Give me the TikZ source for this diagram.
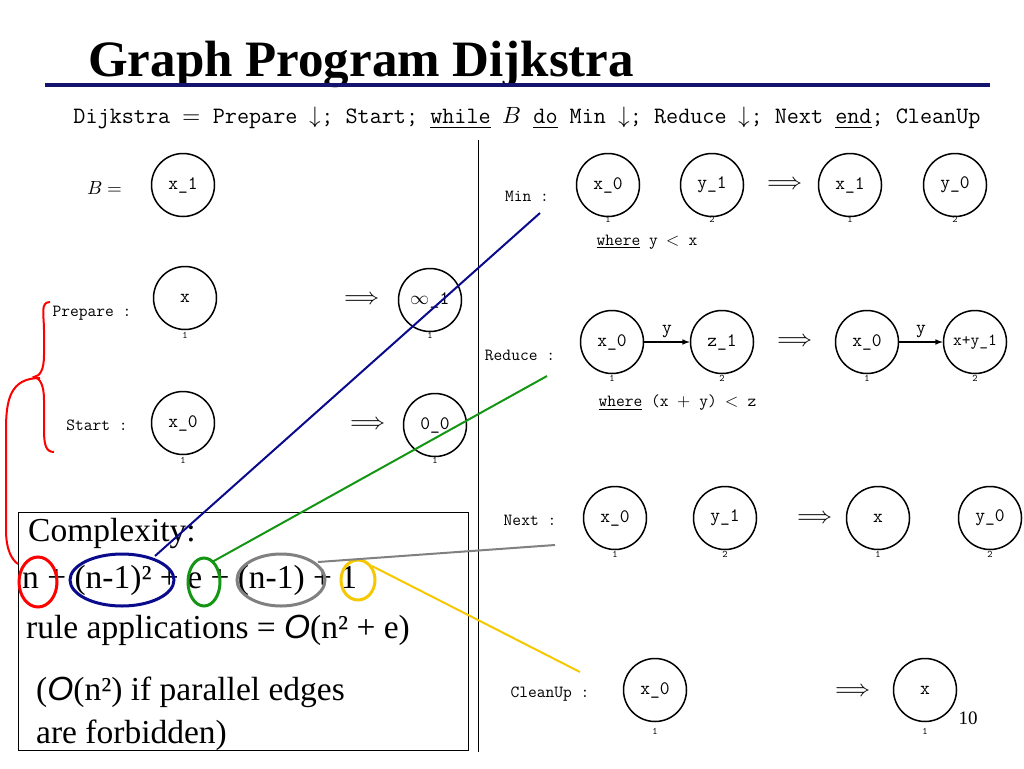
\documentclass[tikz,border=0pt]{standalone}
\usepackage{fontspec}
\setmainfont{Liberation Serif}
\newfontfamily\lsans{Liberation Sans}
\setmonofont{Latin Modern Mono}
\usepackage{unicode-math}
\setmathfont{Latin Modern Math}
\begin{document}
\begin{tikzpicture}[x=1pt,y=-1pt,
  gn/.style={circle,draw,line width=1.5pt,minimum size=63pt,inner sep=0pt,font=\ttfamily\fontsize{19}{21}\selectfont},
  sub/.style={font=\ttfamily\fontsize{10}{11}\selectfont},
  lab/.style={font=\ttfamily\fontsize{17}{19}\selectfont},
  imp/.style={font=\fontsize{24}{26}\selectfont},
  big/.style={font=\fontsize{33.5}{36}\selectfont,anchor=west,inner sep=0pt},
  hl/.style={line width=3pt}]
\useasboundingbox (0,0) rectangle (1024,768);
\node[font=\bfseries\fontsize{51}{54}\selectfont,anchor=west,inner sep=0] (title) at (88,64) {Graph Program Dijkstra};
\draw[line width=4pt,color={rgb,255:red,20;green,20;blue,110}] (45,85) coordinate (t1) -- (990,85) coordinate (t2);
\node[font=\ttfamily\fontsize{23.5}{25}\selectfont,inner sep=0] (prog) at (527,118) {Dijkstra $=$ Prepare $\downarrow$; Start; \underline{while} $B$ \underline{do} Min $\downarrow$; Reduce $\downarrow$; Next \underline{end}; CleanUp};
\draw[line width=1pt] (478,140) coordinate (v1) -- (478,752) coordinate (v2);
% B
\node[font=\fontsize{19}{21}\selectfont] (bl) at (105,188) {$B=$};
\node[gn] (b1) at (183,185) {x\_1};
% Prepare
\node[lab] (pl) at (92,313) {Prepare :};
\node[gn] (p1) at (185,298) {x}; \node[sub] at (185,335) {1};
\node[imp] (pi) at (362,298) {$\Longrightarrow$};
\node[gn] (p2) at (430,300) {$\infty$\_1}; \node[sub] at (430,335) {1};
% Start
\node[lab] (sl) at (97,425) {Start :};
\node[gn] (s1) at (183,423) {x\_0}; \node[sub] at (183,460) {1};
\node[imp] (si) at (368,423) {$\Longrightarrow$};
\node[gn] (s2) at (435,425) {0\_0}; \node[sub] at (435,460) {1};
% Min
\node[lab] (ml) at (527,196) {Min :};
\node[gn] (m1) at (608,185) {x\_0}; \node[sub] at (608,219) {1};
\node[gn] (m2) at (712,185) {y\_1}; \node[sub] at (712,219) {2};
\node[imp] (mi) at (785,183) {$\Longrightarrow$};
\node[gn] (m3) at (850,185) {x\_1}; \node[sub] at (850,219) {1};
\node[gn] (m4) at (955,185) {y\_0}; \node[sub] at (955,219) {2};
\node[lab,anchor=west] (mw) at (593,242) {\underline{where} y $<$ x};
% Reduce
\node[lab] (rl) at (520,355) {Reduce :};
\node[gn] (r1) at (612,342) {x\_0}; \node[sub] at (612,378) {1};
\node[gn] (r2) at (722,342) {z\_1}; \node[sub] at (722,378) {2};
\draw[line width=1.5pt,-latex] (r1) -- node[above,font=\ttfamily\fontsize{19}{21}\selectfont]{y} (r2);
\node[imp] (ri) at (795,340) {$\Longrightarrow$};
\node[gn] (r3) at (867,342) {x\_0}; \node[sub] at (867,378) {1};
\node[gn,font=\ttfamily\fontsize{17}{19}\selectfont] (r4) at (975,342) {x+y\_1}; \node[sub] at (975,378) {2};
\draw[line width=1.5pt,-latex] (r3) -- node[above,font=\ttfamily\fontsize{19}{21}\selectfont]{y} (r4);
\node[lab,anchor=west] (rw) at (595,403) {\underline{where} (x $+$ y) $<$ z};
% Next
\node[lab] (nl) at (530,520) {Next :};
\node[gn] (n1) at (615,518) {x\_0}; \node[sub] at (615,554) {1};
\node[gn] (n2) at (725,518) {y\_1}; \node[sub] at (725,554) {2};
\node[imp] (ni) at (815,517) {$\Longrightarrow$};
\node[gn] (n3) at (878,518) {x}; \node[sub] at (878,554) {1};
\node[gn] (n4) at (990,518) {y\_0}; \node[sub] at (990,554) {2};
% CleanUp
\node[lab] (cl) at (550,694) {CleanUp :};
\node[gn] (c1) at (655,690) {x\_0}; \node[sub] at (655,731) {1};
\node[imp] (ci) at (853,690) {$\Longrightarrow$};
\node[gn] (c2) at (925,690) {x}; \node[sub] at (925,731) {1};
\node[font=\fontsize{19}{21}\selectfont] (pg) at (968,718) {10};
% Complexity box
\draw[line width=1pt] (18,512) rectangle (468,750);
\node[big] (k1) at (28,533) {Complexity:};
\node[big] (k2) at (22,580) {n + (n-1)² + e + (n-1) + 1};
\node[big] (k3) at (26,630) {rule applications = {\lsans\itshape O}(n² + e)};
\node[big] (k4) at (36,692) {({\lsans\itshape O}(n²) if parallel edges};
\node[big] (k5) at (36,735) {are forbidden)};
% highlights
\draw[hl,red] (38,582) ellipse [x radius=19,y radius=25];
\draw[hl,color={rgb,255:red,10;green,10;blue,140}] (122,580) ellipse [x radius=52,y radius=26];
\draw[hl,color={rgb,255:red,20;green,150;blue,20}] (204,582) ellipse [x radius=16,y radius=24];
\draw[hl,gray] (281,580) ellipse [x radius=44,y radius=26];
\draw[hl,color={rgb,255:red,245;green,200;blue,0}] (358,580) ellipse [x radius=17,y radius=20];
\draw[line width=2pt,color={rgb,255:red,10;green,10;blue,140}] (155,556) coordinate (a1) -- (540,213) coordinate (a2);
\draw[line width=2pt,color={rgb,255:red,20;green,150;blue,20}] (212,562) coordinate (g1) -- (547,376) coordinate (g2);
\draw[line width=2pt,gray] (318,562) coordinate (h1) -- (555,545) coordinate (h2);
\draw[line width=2pt,color={rgb,255:red,245;green,200;blue,0}] (372,566) coordinate (y1) -- (580,672) coordinate (y2);
% braces
\draw[line width=2pt,red] (50,302) .. controls (40,302) and (44,315) .. (44,330) -- (44,355) .. controls (44,370) and (40,376) .. (34,377) .. controls (40,378) and (44,385) .. (44,400) -- (44,430) .. controls (44,445) and (46,452) .. (54,452);
\draw[line width=2pt,red] (40,378) .. controls (10,378) and (6,400) .. (6,430) -- (6,530) .. controls (6,550) and (12,560) .. (18,564);
\end{tikzpicture}
\end{document}
